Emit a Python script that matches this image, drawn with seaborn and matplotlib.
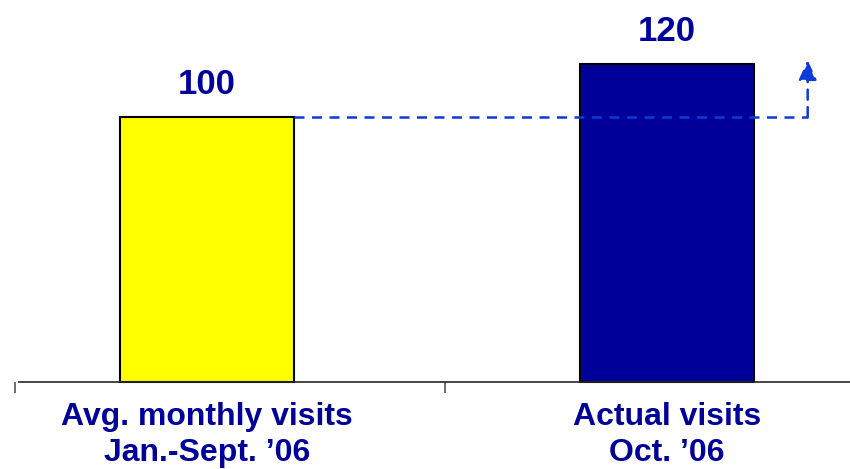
import matplotlib
matplotlib.use("Agg")
import matplotlib.pyplot as plt
import pandas as pd
import seaborn as sns

categories = ["Avg. monthly visits\nJan.-Sept. \u201906", "Actual visits\nOct. \u201906"]
visits = [100, 120]
bar_colors = ["#FFFF00", "#000099"]

navy = "#000099"
dash_blue = "#0D3BD9"

sns.set_style("white")
plt.rcParams["font.family"] = ["Liberation Sans", "DejaVu Sans"]

df = pd.DataFrame({"label": categories, "visits": visits})

fig = plt.figure(figsize=(8.5, 4.69), dpi=100)
ax = fig.add_axes([0, 0, 1, 1])

sns.barplot(data=df, x="label", y="visits", hue="label", palette=bar_colors,
            width=0.378, edgecolor="black", linewidth=1.5, legend=False, ax=ax,
            saturation=1)

# scale: 460 px between bar centres, 2.65 px per visit
ax.set_xlim(-0.45, 1.398)
ax.set_ylim(-32.8, 144.2)

for i, v in enumerate(visits):
    ax.text(i, v + 6, str(v), ha="center", va="bottom", fontsize=25,
            fontweight="bold", color=navy)

# dashed reference line from the Jan-Sept average, turning up into an arrow
x_turn = 1.306
ax.plot([0.189, x_turn], [visits[0], visits[0]], ls=(0, (4, 3)), color=dash_blue,
        lw=1.8, zorder=1)
ax.annotate("", xy=(x_turn, 121.5), xytext=(x_turn, visits[0]),
            arrowprops=dict(arrowstyle="-|>,head_length=1.2,head_width=0.55",
                            color=dash_blue, lw=1.8, ls=(0, (4, 3)),
                            shrinkA=0, shrinkB=0))

for s in ["top", "right", "left"]:
    ax.spines[s].set_visible(False)
ax.spines["bottom"].set_position(("data", 0))
ax.spines["bottom"].set_bounds(-0.409, 1.398)
ax.spines["bottom"].set_linewidth(1.2)
ax.set_yticks([])
ax.set_xlabel("")
ax.set_ylabel("")

ax.set_xticks([0, 1])
ax.set_xticklabels(categories, fontsize=23, fontweight="bold", color=navy,
                   linespacing=1.3)
ax.tick_params(axis="x", which="major", bottom=False, length=0, pad=14)
ax.set_xticks([-0.417, 0.517], minor=True)
ax.tick_params(axis="x", which="minor", bottom=True, length=8, width=1.2,
               color="#555555", direction="out")

fig.savefig("out.png", dpi=100, facecolor="white")
